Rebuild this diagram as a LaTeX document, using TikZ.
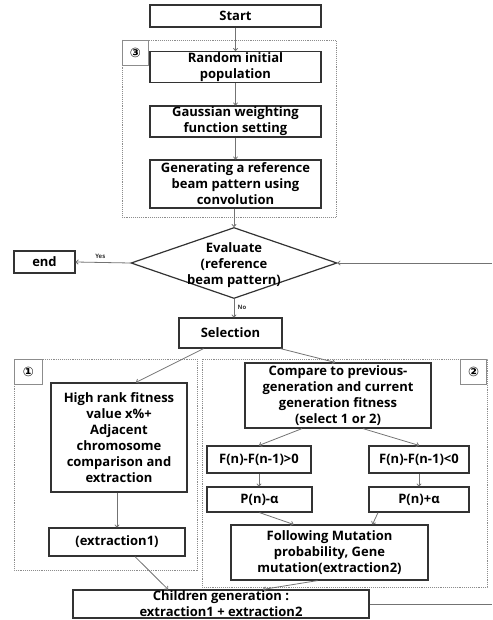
\documentclass[tikz,border=0pt]{standalone}
\usepackage{fontspec}
\setmainfont{Open Sans}
\newfontfamily\circfont{DejaVu Sans}
\usetikzlibrary{shapes.geometric,arrows.meta}
\begin{document}
\begin{tikzpicture}[x=1pt,y=-1pt,
  font=\fontsize{13}{16}\selectfont\bfseries,
  box/.style={draw=black!80,line width=1.2pt,align=center,inner sep=1pt},
  decision/.style={diamond,draw=black!80,line width=1.2pt,inner sep=0pt,minimum width=206pt,minimum height=71pt},
  group/.style={draw=black!45,densely dotted,line width=0.9pt},
  tag/.style={draw=black!45,line width=0.9pt,font=\circfont\bfseries\fontsize{13}{13}\selectfont,minimum width=26pt,minimum height=25pt,inner sep=0pt},
  flow/.style={draw=black!55,line width=0.8pt,-{To[length=3pt,width=5pt]}},
  small/.style={font=\fontsize{6}{7}\selectfont\bfseries,text=black!80}]
\useasboundingbox (0,0) rectangle (492,620);
% group boxes
\draw[group] (122,40) rectangle (336,217);
\node[tag,anchor=north west] (t3) at (122,40) {③};
\draw[group] (14,359) rectangle (197,570);
\node[tag,anchor=north west,minimum width=28pt] (t1) at (14,359) {①};
\draw[group] (202,359) rectangle (487,587);
\node[tag,anchor=north east] (t2) at (487,359) {②};
% steps
\node[box,minimum width=171pt,minimum height=22pt] (start) at (235.5,16) {Start};
\node[box,minimum width=171pt,minimum height=30pt] (rand) at (235.5,67) {Random initial\\population};
\node[box,minimum width=171pt,minimum height=31pt] (gauss) at (235.5,121.5) {Gaussian weighting\\function setting};
\node[box,minimum width=171pt,minimum height=48pt] (gen) at (235.5,184) {Generating a reference\\beam pattern using\\convolution};
\node[decision] (eval) at (234,263) {};
\node[align=center] (evaltxt) at (234,265) {Evaluate\\(reference\\beam pattern)};
\node[box,minimum width=61pt,minimum height=22pt] (end) at (44.5,262) {end};
\node[box,minimum width=103pt,minimum height=30pt] (sel) at (230.5,333) {Selection};
\node[box,minimum width=136pt,minimum height=109pt] (hr) at (119,437.5) {High rank fitness\\value x\%+\\Adjacent\\chromosome\\comparison and\\extraction};
\node[box,minimum width=136pt,minimum height=28pt] (ex1) at (117,542) {(extraction1)};
\node[box,minimum width=186pt,minimum height=65pt] (cmp) at (338,395.5) {Compare to previous-\\generation and current\\generation fitness\\(select 1 or 2)};
\node[box,minimum width=104pt,minimum height=27pt] (fpos) at (259,459.5) {F(n)-F(n-1)>0};
\node[box,minimum width=100pt,minimum height=27pt] (fneg) at (419,459.5) {F(n)-F(n-1)<0};
\node[box,minimum width=105pt,minimum height=25pt] (pm) at (259.5,499.5) {P(n)-α};
\node[box,minimum width=100pt,minimum height=25pt] (pp) at (419,499.5) {P(n)+α};
\node[box,minimum width=197pt,minimum height=55pt] (fol) at (329.5,552.5) {Following Mutation\\probability, Gene\\mutation(extraction2)};
\node[box,minimum width=296pt,minimum height=28pt] (child) at (221,604) {Children generation :\\extraction1 + extraction2};
\coordinate (fbout) at (492,604);
\coordinate (fbin) at (492,263);
% connectors
\draw[flow] (start) -- (rand);
\draw[flow] (rand) -- (gauss);
\draw[flow] (gauss) -- (gen);
\draw[flow] (gen.south -| eval.north) -- (eval.north);
\draw[flow] (eval.west) -- node[small,above,pos=0.55] {Yes} (end.east);
\draw[flow] (eval.south) -- node[small,right,pos=0.45] {No} (eval.south |- sel.north);
\draw[flow] ([xshift=-27pt]sel.south) -- ([xshift=17pt]hr.north);
\draw[flow] ([xshift=50pt]sel.south) -- ([xshift=-3pt]cmp.north);
\draw[flow] (ex1.north |- hr.south) -- (ex1.north);
\draw[flow] ([xshift=-36pt]cmp.south) -- (fpos.north);
\draw[flow] ([xshift=25pt]cmp.south) -- (fneg.north);
\draw[flow] (fpos) -- (fpos.south |- pm.north);
\draw[flow] (fneg) -- (pp);
\draw[flow] (pm.south) -- ([xshift=-36pt]fol.north);
\draw[flow] ([xshift=-41pt]pp.south) -- ([xshift=43pt]fol.north);
\draw[flow] ([xshift=-12pt]fol.south) -- ([xshift=42pt]child.north);
\draw[flow] ([xshift=18pt]ex1.south) -- ([xshift=-53pt]child.north);
\draw[draw=black!55,line width=0.8pt] (child.east) -- (fbout);
\draw[flow] (fbin) -- (eval.east);
\end{tikzpicture}
\end{document}
